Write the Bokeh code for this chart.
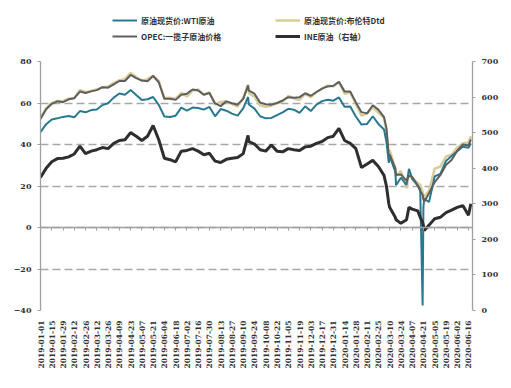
import math
import pandas as pd
from bokeh.plotting import figure
from bokeh.layouts import column
from bokeh.models import (Range1d, LinearAxis, DatetimeAxis, FixedTicker, Legend, LegendItem,
                          DatetimeTickFormatter)
from bokeh.embed import file_html
from bokeh.resources import INLINE

dates = [
    "2019-01-01", "2019-01-08", "2019-01-15", "2019-01-22", "2019-01-29", "2019-02-05", "2019-02-12",
    "2019-02-19", "2019-02-26", "2019-03-05", "2019-03-12", "2019-03-19", "2019-03-26", "2019-04-02",
    "2019-04-09", "2019-04-16", "2019-04-23", "2019-04-30", "2019-05-07", "2019-05-14", "2019-05-21",
    "2019-05-28", "2019-06-04", "2019-06-11", "2019-06-18", "2019-06-25", "2019-07-02", "2019-07-09",
    "2019-07-16", "2019-07-23", "2019-07-30", "2019-08-06", "2019-08-13", "2019-08-20", "2019-08-27",
    "2019-09-03", "2019-09-10", "2019-09-16", "2019-09-17", "2019-09-24", "2019-10-01", "2019-10-08",
    "2019-10-15", "2019-10-22", "2019-10-29", "2019-11-05", "2019-11-12", "2019-11-19", "2019-11-26",
    "2019-12-03", "2019-12-10", "2019-12-17", "2019-12-24", "2019-12-31", "2020-01-07", "2020-01-14",
    "2020-01-21", "2020-01-28", "2020-02-04", "2020-02-11", "2020-02-18", "2020-02-25", "2020-03-03",
    "2020-03-06", "2020-03-09", "2020-03-10", "2020-03-17", "2020-03-18", "2020-03-24", "2020-03-31",
    "2020-04-03", "2020-04-07", "2020-04-14", "2020-04-17", "2020-04-20", "2020-04-21", "2020-04-22",
    "2020-04-28", "2020-05-05", "2020-05-12", "2020-05-19", "2020-05-26", "2020-06-02", "2020-06-09",
    "2020-06-16", "2020-06-19",
]

wti = [
    46.0, 49.8, 52.1, 52.6, 53.3, 53.7, 53.1, 56.1, 55.5, 56.6, 56.9, 59.0, 59.9, 62.6,
    64.6, 64.0, 66.3, 63.9, 61.4, 61.8, 62.9, 59.1, 53.5, 53.3, 53.9, 57.8, 56.3, 57.8,
    57.6, 56.8, 58.1, 53.6, 57.1, 56.3, 54.9, 53.9, 57.4, 62.9, 59.3, 57.3, 53.6, 52.6,
    52.8, 54.2, 55.5, 57.2, 56.8, 55.2, 58.4, 56.1, 59.2, 60.9, 61.6, 61.1, 62.7, 58.2,
    58.3, 53.5, 49.6, 49.9, 53.6, 49.9, 47.2, 41.3, 31.1, 34.4, 26.9, 20.4, 24.0, 20.5,
    28.3, 23.6, 20.1, 18.3, -37.6, 10.0, 13.8, 12.3, 24.6, 25.8, 32.0, 34.4, 36.8, 38.9,
    38.4, 40.5,
]

brent = [
    53.0, 57.5, 60.0, 61.0, 60.9, 62.1, 62.4, 66.3, 65.2, 65.9, 66.5, 67.5, 67.9, 69.6,
    71.0, 71.6, 74.5, 72.5, 70.7, 71.5, 73.2, 70.6, 62.4, 62.5, 62.1, 64.9, 63.1, 66.0,
    66.5, 64.0, 65.1, 59.3, 60.5, 60.7, 59.5, 58.3, 62.4, 69.0, 64.6, 63.1, 58.9, 58.2,
    58.7, 59.8, 60.7, 63.4, 62.2, 61.4, 64.4, 62.8, 65.2, 66.9, 68.5, 68.0, 70.0, 64.5,
    65.0, 59.5, 53.9, 54.9, 58.0, 55.4, 52.9, 46.0, 34.4, 37.2, 28.7, 25.0, 27.2, 19.0,
    26.0, 23.4, 21.5, 20.5, 17.4, 13.2, 15.0, 17.6, 28.4, 29.3, 34.2, 35.1, 38.5, 40.6,
    41.0, 44.0,
]

opec = [
    52.3, 57.0, 59.6, 60.8, 60.4, 61.8, 62.3, 65.5, 64.8, 65.6, 66.2, 67.6, 67.4, 69.0,
    70.6, 70.6, 73.5, 72.0, 70.8, 70.5, 73.0, 70.0, 62.0, 62.0, 61.5, 64.0, 64.5, 66.5,
    66.0, 64.0, 64.8, 59.8, 58.5, 60.8, 59.9, 59.2, 62.0, 68.4, 66.0, 64.5, 60.2, 59.4,
    59.2, 60.0, 61.2, 62.8, 62.5, 62.8, 64.7, 63.5, 65.3, 66.9, 68.0, 68.3, 70.2, 65.6,
    65.5, 60.3, 55.6, 55.0, 58.9, 56.8, 53.2, 48.0, 34.7, 35.3, 28.5, 25.4, 25.6, 22.6,
    25.0, 24.5, 20.2, 17.5, 15.8, 13.6, 12.4, 16.5, 21.9, 25.2, 30.1, 32.5, 37.0, 40.0,
    39.5, 42.5,
]

ine = [
    374, 400, 418, 427, 428, 432, 440, 462, 441, 448, 452, 458, 455, 470,
    478, 480, 500, 490, 478, 490, 520, 480, 428, 424, 418, 448, 450, 455,
    448, 438, 442, 420, 416, 425, 428, 430, 441, 492, 475, 468, 452, 448,
    465, 448, 446, 455, 452, 450, 460, 462, 470, 475, 486, 490, 512, 478,
    470, 455, 402, 412, 422, 405, 380, 350, 300, 290, 262, 255, 245, 255,
    290, 285, 280, 262, 248, 238, 225, 240, 258, 262, 275, 282, 290, 295,
    268, 300,
]

tick_labels = [
    "2019-01-01", "2019-01-15", "2019-01-29", "2019-02-12", "2019-02-26", "2019-03-12", "2019-03-26",
    "2019-04-09", "2019-04-23", "2019-05-07", "2019-05-21", "2019-06-04", "2019-06-18", "2019-07-02",
    "2019-07-16", "2019-07-30", "2019-08-13", "2019-08-27", "2019-09-10", "2019-09-24", "2019-10-08",
    "2019-10-22", "2019-11-05", "2019-11-19", "2019-12-03", "2019-12-17", "2019-12-31", "2020-01-14",
    "2020-01-28", "2020-02-11", "2020-02-25", "2020-03-10", "2020-03-24", "2020-04-07", "2020-04-21",
    "2020-05-05", "2020-05-19", "2020-06-02", "2020-06-16",
]
left_ticks = [-40, -20, 0, 20, 40, 60, 80]
right_ticks = [0, 100, 200, 300, 400, 500, 600, 700]

series_names = ["原油现货价:WTI原油", "原油现货价:布伦特Dtd", "OPEC:一揽子原油价格", "INE原油（右轴）"]
colors = ["#2a7890", "#d8cc98", "#5e5e5e", "#2e2e2e"]
widths = [2, 2.5, 2, 3]
series = [wti, brent, opec, ine]

x = pd.to_datetime(dates)
tick_ms = [pd.Timestamp(t).value // 10**6 for t in tick_labels]
x_start, x_end = pd.Timestamp("2019-01-01"), pd.Timestamp("2020-06-21")

LEG_H = 46

# ---- legend strip: own small figure (its series lie outside its view) ----
lf = figure(width=505, height=LEG_H, output_backend="svg", toolbar_location=None,
            x_axis_type="datetime", x_axis_location=None, y_axis_location=None,
            x_range=Range1d(x_start, x_end), y_range=Range1d(5000, 5001),
            min_border=0, min_border_left=0, min_border_right=0, min_border_top=0, min_border_bottom=0)
lf.grid.visible = False
lf.outline_line_color = None
leg_renderers = [lf.line(x, s, line_color=c, line_width=w) for s, c, w in zip(series, colors, widths)]
legend = Legend(items=[LegendItem(label=n, renderers=[r]) for n, r in zip(series_names, leg_renderers)],
                location=(72, 2), orientation="horizontal", ncols=2,
                padding=0, margin=0, spacing=0, border_line_color=None,
                background_fill_alpha=0, glyph_width=25, glyph_height=16,
                label_height=16, label_width=134, label_standoff=4,
                label_text_font="Noto Sans CJK SC", label_text_font_size="8px",
                label_text_font_style="bold", label_text_color="#333333")
lf.add_layout(legend)

# ---- main chart ----
p = figure(width=505, height=380 - LEG_H, x_axis_type="datetime", output_backend="svg",
           toolbar_location=None,
           x_range=Range1d(x_start, x_end),
           y_range=Range1d(-40, 80),
           min_border_left=40, min_border_right=33, min_border_top=61 - LEG_H, min_border_bottom=70)
p.extra_y_ranges = {"right": Range1d(0, 700)}
p.outline_line_color = None
p.xgrid.visible = False
p.ygrid.ticker = FixedTicker(ticks=left_ticks)
p.ygrid.grid_line_color = "#a8a8a8"
p.ygrid.grid_line_dash = "8 4"
p.ygrid.grid_line_width = 1.3

axis_color = "#a0a0a0"
fmt = DatetimeTickFormatter(days="%Y-%m-%d", months="%Y-%m-%d", years="%Y-%m-%d", hours="%Y-%m-%d")

xb = p.xaxis[0]
xb.ticker = FixedTicker(ticks=tick_ms)
xb.formatter = fmt
xb.axis_line_color = None
xb.major_tick_line_color = None
xb.minor_tick_line_color = None
xb.major_label_orientation = math.pi / 2
xb.major_label_text_font = "DejaVu Serif"
xb.major_label_text_font_style = "bold"
xb.major_label_text_font_size = "7.5px"
xb.major_label_text_color = "#333333"
xb.major_label_standoff = 4

x0 = DatetimeAxis(fixed_location=0, ticker=FixedTicker(ticks=tick_ms), formatter=fmt)
x0.axis_line_color = axis_color
x0.axis_line_width = 1.3
x0.major_tick_line_color = axis_color
x0.major_tick_in = 0
x0.major_tick_out = 3
x0.minor_tick_line_color = None
x0.major_label_text_font_size = "0px"
x0.major_label_text_alpha = 0
p.add_layout(x0, "below")

yl = p.yaxis[0]
yl.ticker = FixedTicker(ticks=left_ticks)
yl.axis_line_color = axis_color
yl.axis_line_width = 1.3
yl.major_tick_line_color = axis_color
yl.major_tick_in = 0
yl.major_tick_out = 3
yl.minor_tick_line_color = None
yl.major_label_text_font = "DejaVu Serif"
yl.major_label_text_font_style = "bold"
yl.major_label_text_font_size = "8px"
yl.major_label_text_color = "#333333"
yl.major_label_standoff = 6

yr = LinearAxis(y_range_name="right", ticker=FixedTicker(ticks=right_ticks))
yr.axis_line_color = axis_color
yr.axis_line_width = 1.3
yr.major_tick_line_color = axis_color
yr.major_tick_in = 0
yr.major_tick_out = 3
yr.minor_tick_line_color = None
yr.major_label_text_font = "DejaVu Serif"
yr.major_label_text_font_style = "bold"
yr.major_label_text_font_size = "8px"
yr.major_label_text_color = "#333333"
yr.major_label_standoff = 6
p.add_layout(yr, "right")

p.line(x, brent, line_color=colors[1], line_width=widths[1])
p.line(x, wti, line_color=colors[0], line_width=widths[0])
p.line(x, opec, line_color=colors[2], line_width=widths[2])
p.line(x, ine, line_color=colors[3], line_width=widths[3], y_range_name="right")

open("out.html", "w").write(file_html(column(lf, p, spacing=0), INLINE))
